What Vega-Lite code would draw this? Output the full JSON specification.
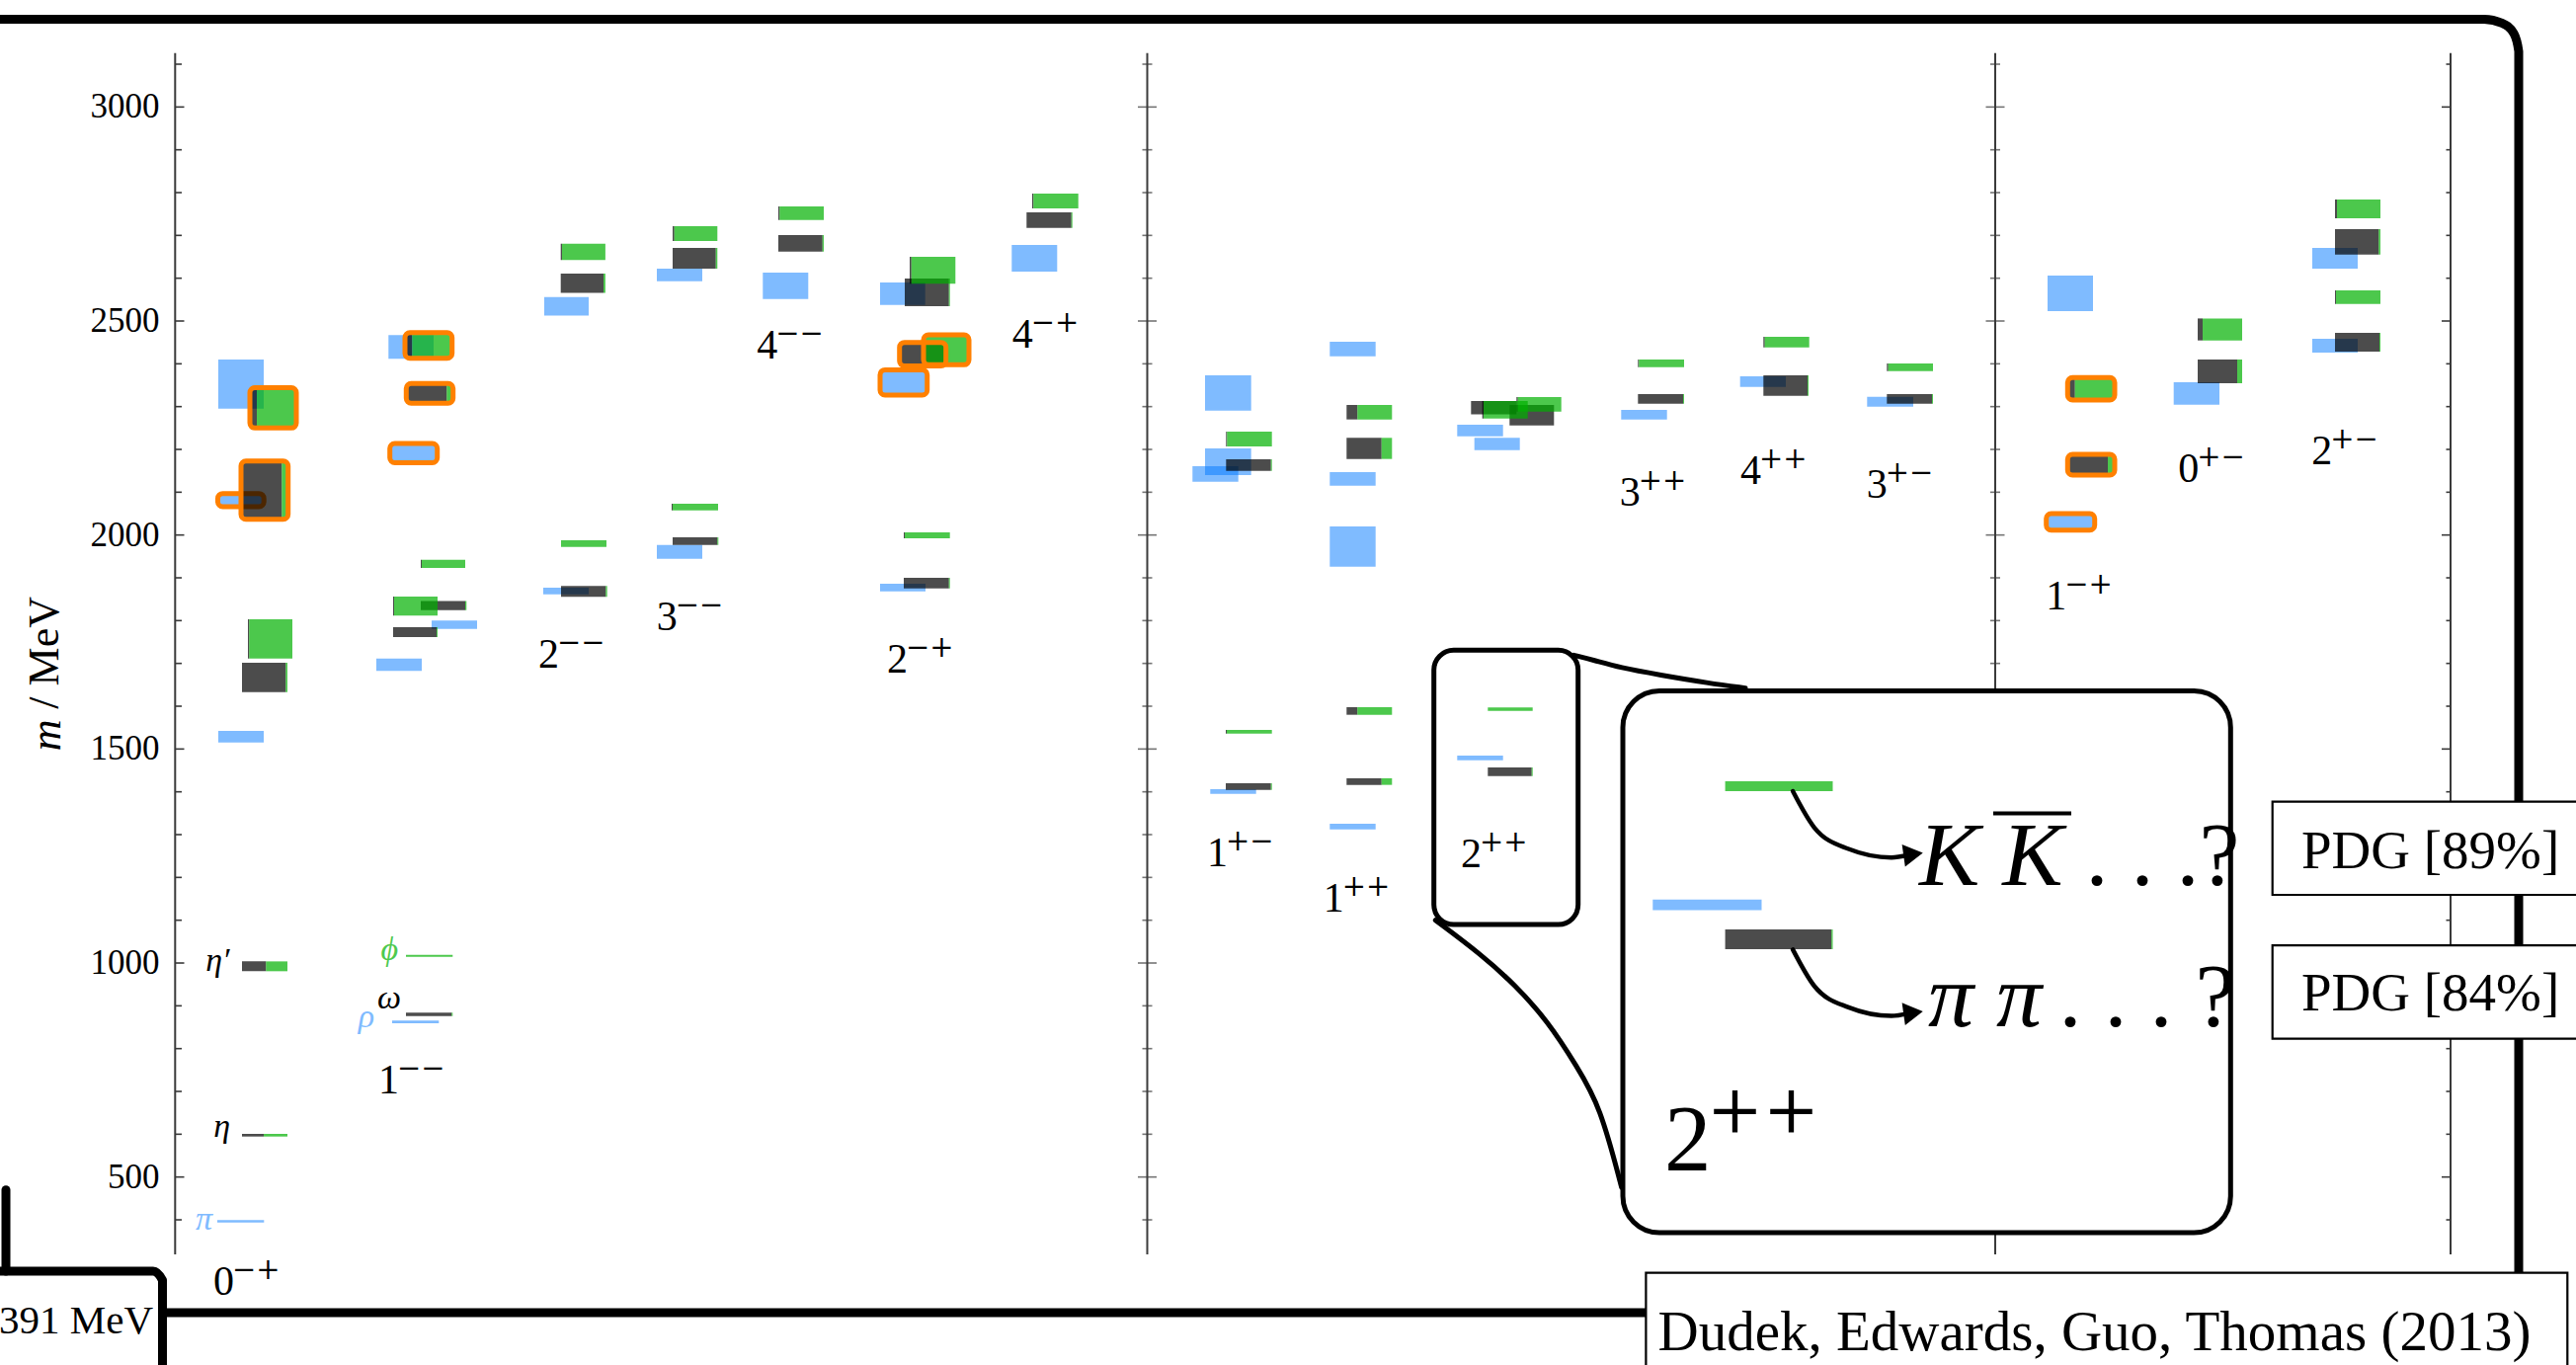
{
"$schema":"https://vega.github.io/schema/vega-lite/v6.json",
"width":2608,"height":1382,"autosize":{"type":"none"},"padding":0,
"background":"white",
"config":{"view":{"stroke":null}},
"datasets":{
"iv":[
{"x0":2.20,"x1":2.673,"lo":393.8,"hi":399.2,"hyb":false},
{"x0":2.21,"x1":2.67,"lo":1515.4,"hi":1542.3,"hyb":false},
{"x0":2.205,"x1":2.672,"lo":2066,"hi":2097,"hyb":true},
{"x0":2.21,"x1":2.67,"lo":2295,"hi":2410,"hyb":false},
{"x0":3.97,"x1":4.443,"lo":859.2,"hi":865.4,"hyb":false},
{"x0":3.81,"x1":4.27,"lo":1682.3,"hi":1711.5,"hyb":false},
{"x0":4.37,"x1":4.83,"lo":1780.8,"hi":1800,"hyb":false},
{"x0":3.947,"x1":4.427,"lo":2169,"hi":2214,"hyb":true},
{"x0":3.933,"x1":4.39,"lo":2411.5,"hi":2467,"hyb":false},
{"x0":5.50,"x1":5.96,"lo":1861.5,"hi":1877,"hyb":false},
{"x0":5.51,"x1":5.96,"lo":2512.6,"hi":2555.7,"hyb":false},
{"x0":6.65,"x1":7.11,"lo":1944.6,"hi":1977,"hyb":false},
{"x0":6.65,"x1":7.11,"lo":2593,"hi":2622.3,"hyb":false},
{"x0":7.723,"x1":8.183,"lo":2551.5,"hi":2613,"hyb":false},
{"x0":8.91,"x1":9.37,"lo":1868.5,"hi":1886,"hyb":false},
{"x0":8.91,"x1":9.387,"lo":2327,"hi":2386,"hyb":true},
{"x0":8.91,"x1":9.367,"lo":2537.7,"hi":2590,"hyb":false},
{"x0":10.243,"x1":10.703,"lo":2615.4,"hi":2677.7,"hyb":false},
{"x0":12.253,"x1":12.717,"lo":1395.4,"hi":1406,"hyb":false},
{"x0":12.073,"x1":12.537,"lo":2124.6,"hi":2160.8,"hyb":false},
{"x0":12.20,"x1":12.667,"lo":2140,"hi":2202.3,"hyb":false},
{"x0":12.20,"x1":12.667,"lo":2290.8,"hi":2373,"hyb":false},
{"x0":13.463,"x1":13.927,"lo":1312.3,"hi":1325.4,"hyb":false},
{"x0":13.463,"x1":13.927,"lo":1926,"hi":2020,"hyb":false},
{"x0":13.463,"x1":13.927,"lo":2115.4,"hi":2147,"hyb":false},
{"x0":13.463,"x1":13.927,"lo":2417.7,"hi":2451.5,"hyb":false},
{"x0":14.753,"x1":15.217,"lo":1473.8,"hi":1484.6,"hyb":false},
{"x0":14.927,"x1":15.387,"lo":2198.5,"hi":2227,"hyb":false},
{"x0":14.753,"x1":15.217,"lo":2230.8,"hi":2257.7,"hyb":false},
{"x0":16.413,"x1":16.877,"lo":2270,"hi":2292.3,"hyb":false},
{"x0":17.617,"x1":18.08,"lo":2346,"hi":2370.8,"hyb":false},
{"x0":18.903,"x1":19.37,"lo":2300,"hi":2323,"hyb":false},
{"x0":20.73,"x1":21.19,"lo":2523,"hi":2606,"hyb":false},
{"x0":20.717,"x1":21.207,"lo":2011.5,"hi":2050,"hyb":true},
{"x0":22.007,"x1":22.47,"lo":2304.6,"hi":2357,"hyb":false},
{"x0":23.41,"x1":23.87,"lo":2426,"hi":2458.5,"hyb":false},
{"x0":23.41,"x1":23.87,"lo":2622.3,"hi":2670.8,"hyb":false}
],
"is":[
{"x0":2.45,"xs":2.67,"x1":2.91,"lo":594.6,"hi":600.8,"hyb":false},
{"x0":2.45,"xs":2.693,"x1":2.91,"lo":980.8,"hi":1003.8,"hyb":false},
{"x0":2.45,"xs":2.893,"x1":2.91,"lo":1633,"hi":1701.5,"hyb":false},
{"x0":2.51,"xs":2.523,"x1":2.96,"lo":1711.5,"hi":1803,"hyb":false},
{"x0":2.44,"xs":2.853,"x1":2.917,"lo":2037,"hi":2173,"hyb":true},
{"x0":2.53,"xs":2.60,"x1":3.00,"lo":2250,"hi":2344,"hyb":true},
{"x0":4.11,"xs":4.573,"x1":4.583,"lo":876.2,"hi":883.8,"hyb":false},
{"x0":4.11,"xs":4.11,"x1":4.583,"lo":1014.6,"hi":1019.2,"hyb":false},
{"x0":3.98,"xs":4.42,"x1":4.43,"lo":1761.5,"hi":1784.6,"hyb":false},
{"x0":3.98,"xs":3.99,"x1":4.43,"lo":1811.5,"hi":1856,"hyb":false},
{"x0":4.26,"xs":4.71,"x1":4.723,"lo":1824.6,"hi":1846,"hyb":false},
{"x0":4.26,"xs":4.27,"x1":4.71,"lo":1923,"hi":1942,"hyb":false},
{"x0":4.113,"xs":4.523,"x1":4.587,"lo":2308,"hi":2354,"hyb":true},
{"x0":4.10,"xs":4.173,"x1":4.577,"lo":2413,"hi":2473,"hyb":true},
{"x0":5.68,"xs":6.133,"x1":6.147,"lo":1855.4,"hi":1880.8,"hyb":false},
{"x0":5.68,"xs":5.68,"x1":6.14,"lo":1972.3,"hi":1987.7,"hyb":false},
{"x0":5.677,"xs":6.11,"x1":6.129,"lo":2565.6,"hi":2611,"hyb":false},
{"x0":5.677,"xs":5.69,"x1":6.129,"lo":2642.3,"hi":2680.4,"hyb":false},
{"x0":6.81,"xs":7.263,"x1":7.273,"lo":1977,"hi":1994.6,"hyb":false},
{"x0":6.80,"xs":6.81,"x1":7.27,"lo":2057.7,"hi":2073,"hyb":false},
{"x0":6.81,"xs":7.247,"x1":7.263,"lo":2622.3,"hi":2670.8,"hyb":false},
{"x0":6.81,"xs":6.827,"x1":7.263,"lo":2687,"hi":2721.5,"hyb":false},
{"x0":7.88,"xs":8.327,"x1":8.34,"lo":2662.3,"hi":2700.8,"hyb":false},
{"x0":7.88,"xs":7.893,"x1":8.34,"lo":2736,"hi":2767.7,"hyb":false},
{"x0":9.15,"xs":9.607,"x1":9.617,"lo":1875.4,"hi":1900,"hyb":false},
{"x0":9.15,"xs":9.16,"x1":9.617,"lo":1992.3,"hi":2006,"hyb":false},
{"x0":9.107,"xs":9.577,"x1":9.577,"lo":2395,"hi":2450,"hyb":true},
{"x0":9.35,"xs":9.35,"x1":9.81,"lo":2397.7,"hi":2467.7,"hyb":true},
{"x0":9.16,"xs":9.607,"x1":9.617,"lo":2534.6,"hi":2599,"hyb":false},
{"x0":9.21,"xs":9.227,"x1":9.673,"lo":2587,"hi":2650,"hyb":false},
{"x0":10.393,"xs":10.847,"x1":10.857,"lo":2717.7,"hi":2753.8,"hyb":false},
{"x0":10.45,"xs":10.463,"x1":10.917,"lo":2763,"hi":2797.7,"hyb":false},
{"x0":12.41,"xs":12.867,"x1":12.877,"lo":1404.6,"hi":1420,"hyb":false},
{"x0":12.41,"xs":12.42,"x1":12.877,"lo":1536.2,"hi":1544.6,"hyb":false},
{"x0":12.413,"xs":12.867,"x1":12.877,"lo":2150,"hi":2177,"hyb":false},
{"x0":12.413,"xs":12.423,"x1":12.877,"lo":2207,"hi":2241.5,"hyb":false},
{"x0":13.633,"xs":13.987,"x1":14.093,"lo":1416.2,"hi":1431.6,"hyb":false},
{"x0":13.633,"xs":13.743,"x1":14.093,"lo":1580,"hi":1597.7,"hyb":false},
{"x0":13.633,"xs":13.987,"x1":14.093,"lo":2177.7,"hi":2227,"hyb":false},
{"x0":13.633,"xs":13.743,"x1":14.093,"lo":2270,"hi":2303.8,"hyb":false},
{"x0":15.063,"xs":15.507,"x1":15.517,"lo":1437,"hi":1457,"hyb":false},
{"x0":15.063,"xs":15.063,"x1":15.517,"lo":1589.2,"hi":1597,"hyb":false},
{"x0":14.893,"xs":15.353,"x1":15.353,"lo":2282,"hi":2313,"hyb":false},
{"x0":15.007,"xs":15.02,"x1":15.467,"lo":2272.3,"hi":2313,"hyb":false},
{"x0":15.283,"xs":15.733,"x1":15.733,"lo":2256,"hi":2303.8,"hyb":false},
{"x0":15.353,"xs":15.367,"x1":15.807,"lo":2288.5,"hi":2322.3,"hyb":false},
{"x0":16.583,"xs":17.04,"x1":17.05,"lo":2307,"hi":2329.2,"hyb":false},
{"x0":16.583,"xs":16.593,"x1":17.05,"lo":2392.3,"hi":2410,"hyb":false},
{"x0":17.853,"xs":18.30,"x1":18.31,"lo":2325.4,"hi":2373,"hyb":false},
{"x0":17.853,"xs":17.867,"x1":18.317,"lo":2438.5,"hi":2463,"hyb":false},
{"x0":19.103,"xs":19.56,"x1":19.57,"lo":2307,"hi":2329.2,"hyb":false},
{"x0":19.103,"xs":19.117,"x1":19.57,"lo":2383,"hi":2400.8,"hyb":false},
{"x0":20.933,"xs":21.34,"x1":21.41,"lo":2140,"hi":2188.5,"hyb":true},
{"x0":20.933,"xs":21.007,"x1":21.41,"lo":2315.4,"hi":2367.7,"hyb":true},
{"x0":22.25,"xs":22.65,"x1":22.70,"lo":2354.6,"hi":2410,"hyb":false},
{"x0":22.25,"xs":22.30,"x1":22.70,"lo":2454.6,"hi":2506,"hyb":false},
{"x0":23.64,"xs":24.09,"x1":24.10,"lo":2428.5,"hi":2472.3,"hyb":false},
{"x0":23.64,"xs":23.65,"x1":24.10,"lo":2540,"hi":2571.5,"hyb":false},
{"x0":23.64,"xs":24.083,"x1":24.10,"lo":2655.4,"hi":2714.6,"hyb":false},
{"x0":23.64,"xs":23.66,"x1":24.10,"lo":2740,"hi":2784,"hyb":false}
],
"inIv":[{"x0":16.733,"x1":17.835,"lo":1123.4,"hi":1148.4}],
"inIs":[
{"x0":17.466,"xs":17.466,"x1":18.555,"lo":1401.5,"hi":1424.6},
{"x0":17.466,"xs":18.542,"x1":18.555,"lo":1032.3,"hi":1078.5}
],
"ticks":[{"m":400},{"m":500},{"m":600},{"m":700},{"m":800},{"m":900},{"m":1000},{"m":1100},{"m":1200},{"m":1300},{"m":1400},{"m":1500},{"m":1600},{"m":1700},{"m":1800},{"m":1900},{"m":2000},{"m":2100},{"m":2200},{"m":2300},{"m":2400},{"m":2500},{"m":2600},{"m":2700},{"m":2800},{"m":2900},{"m":3000},{"m":3100}],
"vlines":[{"x":1.773},{"x":11.615},{"x":20.20},{"x":24.81}],
"jpc":[
{"j":"0","pc":"−+","x":2.16,"m":225.5},
{"j":"1","pc":"−−","x":3.83,"m":696},
{"j":"2","pc":"−−","x":5.45,"m":1690},
{"j":"3","pc":"−−","x":6.647,"m":1777},
{"j":"4","pc":"−−","x":7.663,"m":2413},
{"j":"2","pc":"−+","x":8.98,"m":1679},
{"j":"4","pc":"−+","x":10.247,"m":2438},
{"j":"1","pc":"+−","x":12.22,"m":1227},
{"j":"1","pc":"++","x":13.397,"m":1119},
{"j":"2","pc":"++","x":14.79,"m":1223},
{"j":"3","pc":"++","x":16.397,"m":2069},
{"j":"4","pc":"++","x":17.62,"m":2119},
{"j":"3","pc":"+−","x":18.897,"m":2087},
{"j":"1","pc":"−+","x":20.713,"m":1827},
{"j":"0","pc":"+−","x":22.053,"m":2123},
{"j":"2","pc":"+−","x":23.403,"m":2165}
],
"greek":[
{"t":"η′","x":2.325,"m":981,"c":"ll"},
{"t":"η","x":2.33,"m":594.5,"c":"ll"},
{"t":"π","x":2.15,"m":377,"c":"I1"},
{"t":"ϕ","x":4.03,"m":1006,"c":"ss"},
{"t":"ω","x":4.06,"m":893,"c":"ll"},
{"t":"ρ","x":3.79,"m":850,"c":"I1"}
],
"frame":[
{"p":"top","o":1,"x":0,"m":3205},
{"p":"top","o":2,"x":25.15,"m":3205},
{"p":"top","o":3,"x":25.33,"m":3196},
{"p":"top","o":4,"x":25.45,"m":3172},
{"p":"top","o":5,"x":25.50,"m":3130},
{"p":"top","o":6,"x":25.50,"m":277.7},
{"p":"left","o":1,"x":0.06,"m":470},
{"p":"left","o":2,"x":0.06,"m":280},
{"p":"box","o":1,"x":-0.05,"m":280},
{"p":"box","o":2,"x":1.55,"m":280},
{"p":"box","o":3,"x":1.645,"m":259},
{"p":"box","o":4,"x":1.645,"m":50},
{"p":"bottom","o":1,"x":1.645,"m":183},
{"p":"bottom","o":2,"x":16.664,"m":183}
],
"conn":[
{"p":"c1","o":1,"x":15.933,"m":1719.3},
{"p":"c1","o":2,"x":16.133,"m":1707.8},
{"p":"c1","o":3,"x":16.40,"m":1690},
{"p":"c1","o":4,"x":16.80,"m":1673.2},
{"p":"c1","o":5,"x":17.30,"m":1653.8},
{"p":"c1","o":6,"x":17.67,"m":1642.3},
{"p":"c2","o":1,"x":14.533,"m":1099.9},
{"p":"c2","o":2,"x":15.00,"m":1019.2},
{"p":"c2","o":3,"x":15.333,"m":949.9},
{"p":"c2","o":4,"x":15.667,"m":865.5},
{"p":"c2","o":5,"x":15.967,"m":757.7},
{"p":"c2","o":6,"x":16.20,"m":666.1},
{"p":"c2","o":7,"x":16.417,"m":476.2}
],
"arrows":[
{"p":"a1","o":1,"x":18.151,"m":1401.5},
{"p":"a1","o":2,"x":18.368,"m":1316.6},
{"p":"a1","o":3,"x":18.715,"m":1266.5},
{"p":"a1","o":4,"x":19.149,"m":1246.4},
{"p":"a1","o":5,"x":19.32,"m":1252},
{"p":"a2","o":1,"x":18.151,"m":1031.4},
{"p":"a2","o":2,"x":18.368,"m":946.4},
{"p":"a2","o":3,"x":18.715,"m":896.4},
{"p":"a2","o":4,"x":19.149,"m":876.3},
{"p":"a2","o":5,"x":19.32,"m":882}
],
"heads":[{"x":19.37,"m":1254},{"x":19.37,"m":884}],
"boxes":[
{"k":"small","x0":14.517,"x1":15.977,"lo":1090,"hi":1730.8},
{"k":"inset","x0":16.43,"x1":22.583,"lo":370,"hi":1635.8},
{"k":"pdg","x0":23.007,"x1":26.3,"lo":1159.2,"hi":1377},
{"k":"pdg","x0":23.007,"x1":26.3,"lo":823,"hi":1041.5},
{"k":"cite","x0":16.664,"x1":25.993,"lo":50,"hi":276.3},
{"k":"bar","x0":20.18,"x1":20.97,"lo":1349.6,"hi":1349.6}
],
"notes":[
{"t":"PDG [89%]","x":23.30,"m":1221.5,"k":"pdg"},
{"t":"PDG [84%]","x":23.30,"m":889.2,"k":"pdg"},
{"t":"Dudek, Edwards, Guo, Thomas (2013)","x":16.785,"m":95.4,"k":"cite"},
{"t":"391 MeV","x":-0.01,"m":134.6,"k":"mev"},
{"t":"K K","x":19.43,"m":1181.6,"k":"kk"},
{"t":". . .?","x":21.115,"m":1181.6,"k":"dots"},
{"t":"π π","x":19.52,"m":851.4,"k":"kk"},
{"t":". . . ?","x":20.845,"m":851.4,"k":"dots"},
{"t":"2","x":16.85,"m":516,"k":"in2"},
{"t":"++","x":16.85,"m":516,"k":"in2sup"},
{"t":"m","x":0.48,"m":1532,"k":"ym"},
{"t":"/ MeV","x":0.46,"m":1725,"k":"yu"}
]
},
"layer":[
{"data":{"name":"frame"},"mark":{"type":"line","color":"#000","strokeWidth":9,"strokeCap":"round","strokeJoin":"round","interpolate":"monotone"},
 "encoding":{"x":{"field":"x","type":"quantitative","scale":{"domain":[0,26.08],"nice":false,"zero":false},"axis":null},
 "y":{"field":"m","type":"quantitative","scale":{"domain":[60.8,3250],"nice":false,"zero":false},"axis":null},
 "detail":{"field":"p"},"order":{"field":"o","type":"quantitative"}}},
{"data":{"name":"vlines"},"mark":{"type":"rule","color":"#3a3a3a","strokeWidth":2},
 "encoding":{"x":{"field":"x","type":"quantitative","scale":{"domain":[0,26.08],"nice":false,"zero":false},"axis":null},
 "y":{"datum":319,"type":"quantitative","scale":{"domain":[60.8,3250],"nice":false,"zero":false},"axis":null},"y2":{"datum":3126}}},
{"data":{"name":"ticks"},"transform":[{"filter":"datum.m % 500 !== 0"}],"mark":{"type":"rule","color":"#3a3a3a","strokeWidth":1.6},
 "encoding":{"x":{"datum":1.773,"type":"quantitative","scale":{"domain":[0,26.08],"nice":false,"zero":false},"axis":null},"x2":{"datum":1.84},
 "y":{"field":"m","type":"quantitative","scale":{"domain":[60.8,3250],"nice":false,"zero":false},"axis":null}}},
{"data":{"name":"ticks"},"transform":[{"filter":"datum.m % 500 === 0"}],"mark":{"type":"rule","color":"#3a3a3a","strokeWidth":1.6},
 "encoding":{"x":{"datum":1.773,"type":"quantitative","scale":{"domain":[0,26.08],"nice":false,"zero":false},"axis":null},"x2":{"datum":1.865},
 "y":{"field":"m","type":"quantitative","scale":{"domain":[60.8,3250],"nice":false,"zero":false},"axis":null}}},
{"data":{"name":"ticks"},"transform":[{"filter":"datum.m % 500 === 0 && datum.m >= 500 && datum.m <= 3000"}],"mark":{"type":"text","font":"Liberation Serif","fontSize":35,"align":"right","baseline":"middle","color":"#000"},
 "encoding":{"x":{"datum":1.615,"type":"quantitative","scale":{"domain":[0,26.08],"nice":false,"zero":false},"axis":null},
 "y":{"field":"m","type":"quantitative","scale":{"domain":[60.8,3250],"nice":false,"zero":false},"axis":null},
 "text":{"field":"m","type":"quantitative","format":"d"}}},
{"data":{"name":"ticks"},"transform":[{"filter":"datum.m % 500 !== 0"}],"mark":{"type":"rule","color":"#3a3a3a","strokeWidth":1.6},
 "encoding":{"x":{"datum":24.81,"type":"quantitative","scale":{"domain":[0,26.08],"nice":false,"zero":false},"axis":null},"x2":{"datum":24.765},
 "y":{"field":"m","type":"quantitative","scale":{"domain":[60.8,3250],"nice":false,"zero":false},"axis":null}}},
{"data":{"name":"ticks"},"transform":[{"filter":"datum.m % 500 === 0"}],"mark":{"type":"rule","color":"#3a3a3a","strokeWidth":1.6},
 "encoding":{"x":{"datum":24.81,"type":"quantitative","scale":{"domain":[0,26.08],"nice":false,"zero":false},"axis":null},"x2":{"datum":24.72},
 "y":{"field":"m","type":"quantitative","scale":{"domain":[60.8,3250],"nice":false,"zero":false},"axis":null}}},
{"data":{"name":"ticks"},"mark":{"type":"tick","orient":"horizontal","color":"#3a3a3a","thickness":1.6},
 "encoding":{"x":{"datum":11.615,"type":"quantitative","scale":{"domain":[0,26.08],"nice":false,"zero":false},"axis":null},
 "y":{"field":"m","type":"quantitative","scale":{"domain":[60.8,3250],"nice":false,"zero":false},"axis":null},
 "size":{"condition":{"test":"datum.m % 500 === 0","value":19},"value":10}}},
{"data":{"name":"ticks"},"mark":{"type":"tick","orient":"horizontal","color":"#3a3a3a","thickness":1.6},
 "encoding":{"x":{"datum":20.20,"type":"quantitative","scale":{"domain":[0,26.08],"nice":false,"zero":false},"axis":null},
 "y":{"field":"m","type":"quantitative","scale":{"domain":[60.8,3250],"nice":false,"zero":false},"axis":null},
 "size":{"condition":{"test":"datum.m % 500 === 0","value":19},"value":10}}},
{"data":{"name":"iv"},"mark":{"type":"rect","color":"#0078ff","opacity":0.5},
 "encoding":{"x":{"field":"x0","type":"quantitative","scale":{"domain":[0,26.08],"nice":false,"zero":false},"axis":null},"x2":{"field":"x1"},
 "y":{"field":"lo","type":"quantitative","scale":{"domain":[60.8,3250],"nice":false,"zero":false},"axis":null},"y2":{"field":"hi"}}},
{"data":{"name":"iv"},"transform":[{"filter":"datum.hyb"}],"mark":{"type":"rect","filled":false,"color":"#ff8000","strokeWidth":5,"cornerRadius":5},
 "encoding":{"x":{"field":"x0","type":"quantitative","scale":{"domain":[0,26.08],"nice":false,"zero":false},"axis":null},"x2":{"field":"x1"},
 "y":{"field":"lo","type":"quantitative","scale":{"domain":[60.8,3250],"nice":false,"zero":false},"axis":null},"y2":{"field":"hi"}}},
{"data":{"name":"is"},"mark":{"type":"rect","color":"#000000","opacity":0.7},
 "encoding":{"x":{"field":"x0","type":"quantitative","scale":{"domain":[0,26.08],"nice":false,"zero":false},"axis":null},"x2":{"field":"xs"},
 "y":{"field":"lo","type":"quantitative","scale":{"domain":[60.8,3250],"nice":false,"zero":false},"axis":null},"y2":{"field":"hi"}}},
{"data":{"name":"is"},"mark":{"type":"rect","color":"#00b000","opacity":0.7},
 "encoding":{"x":{"field":"xs","type":"quantitative","scale":{"domain":[0,26.08],"nice":false,"zero":false},"axis":null},"x2":{"field":"x1"},
 "y":{"field":"lo","type":"quantitative","scale":{"domain":[60.8,3250],"nice":false,"zero":false},"axis":null},"y2":{"field":"hi"}}},
{"data":{"name":"is"},"transform":[{"filter":"datum.hyb"}],"mark":{"type":"rect","filled":false,"color":"#ff8000","strokeWidth":5,"cornerRadius":5},
 "encoding":{"x":{"field":"x0","type":"quantitative","scale":{"domain":[0,26.08],"nice":false,"zero":false},"axis":null},"x2":{"field":"x1"},
 "y":{"field":"lo","type":"quantitative","scale":{"domain":[60.8,3250],"nice":false,"zero":false},"axis":null},"y2":{"field":"hi"}}},
{"data":{"name":"jpc"},"mark":{"type":"text","font":"Liberation Serif","fontSize":42,"align":"left","baseline":"alphabetic","color":"#000"},
 "encoding":{"x":{"field":"x","type":"quantitative","scale":{"domain":[0,26.08],"nice":false,"zero":false},"axis":null},
 "y":{"field":"m","type":"quantitative","scale":{"domain":[60.8,3250],"nice":false,"zero":false},"axis":null},"text":{"field":"j"}}},
{"data":{"name":"jpc"},"mark":{"type":"text","font":"DejaVu Serif","fontSize":29,"align":"left","baseline":"alphabetic","color":"#000","dx":19,"dy":-16},
 "encoding":{"x":{"field":"x","type":"quantitative","scale":{"domain":[0,26.08],"nice":false,"zero":false},"axis":null},
 "y":{"field":"m","type":"quantitative","scale":{"domain":[60.8,3250],"nice":false,"zero":false},"axis":null},"text":{"field":"pc"}}},
{"data":{"name":"greek"},"mark":{"type":"text","font":"Liberation Serif","fontStyle":"italic","fontSize":34,"align":"right","baseline":"alphabetic"},
 "encoding":{"x":{"field":"x","type":"quantitative","scale":{"domain":[0,26.08],"nice":false,"zero":false},"axis":null},
 "y":{"field":"m","type":"quantitative","scale":{"domain":[60.8,3250],"nice":false,"zero":false},"axis":null},"text":{"field":"t"},
 "color":{"field":"c","type":"nominal","scale":{"domain":["I1","ll","ss"],"range":["#80bbff","#000000","#4ec94e"]},"legend":null}}},
{"data":{"name":"conn"},"mark":{"type":"line","color":"#000","strokeWidth":5,"interpolate":"basis","strokeCap":"round"},
 "encoding":{"x":{"field":"x","type":"quantitative","scale":{"domain":[0,26.08],"nice":false,"zero":false},"axis":null},
 "y":{"field":"m","type":"quantitative","scale":{"domain":[60.8,3250],"nice":false,"zero":false},"axis":null},
 "detail":{"field":"p"},"order":{"field":"o","type":"quantitative"}}},
{"data":{"name":"boxes"},"transform":[{"filter":"datum.k === 'small'"}],"mark":{"type":"rect","filled":false,"color":"#000","strokeWidth":5,"cornerRadius":20},
 "encoding":{"x":{"field":"x0","type":"quantitative","scale":{"domain":[0,26.08],"nice":false,"zero":false},"axis":null},"x2":{"field":"x1"},
 "y":{"field":"lo","type":"quantitative","scale":{"domain":[60.8,3250],"nice":false,"zero":false},"axis":null},"y2":{"field":"hi"}}},
{"data":{"name":"boxes"},"transform":[{"filter":"datum.k === 'inset'"}],"mark":{"type":"rect","fill":"#ffffff","stroke":"#000","strokeWidth":5,"cornerRadius":37},
 "encoding":{"x":{"field":"x0","type":"quantitative","scale":{"domain":[0,26.08],"nice":false,"zero":false},"axis":null},"x2":{"field":"x1"},
 "y":{"field":"lo","type":"quantitative","scale":{"domain":[60.8,3250],"nice":false,"zero":false},"axis":null},"y2":{"field":"hi"}}},
{"data":{"name":"inIv"},"mark":{"type":"rect","color":"#0078ff","opacity":0.5},
 "encoding":{"x":{"field":"x0","type":"quantitative","scale":{"domain":[0,26.08],"nice":false,"zero":false},"axis":null},"x2":{"field":"x1"},
 "y":{"field":"lo","type":"quantitative","scale":{"domain":[60.8,3250],"nice":false,"zero":false},"axis":null},"y2":{"field":"hi"}}},
{"data":{"name":"inIs"},"mark":{"type":"rect","color":"#000000","opacity":0.7},
 "encoding":{"x":{"field":"x0","type":"quantitative","scale":{"domain":[0,26.08],"nice":false,"zero":false},"axis":null},"x2":{"field":"xs"},
 "y":{"field":"lo","type":"quantitative","scale":{"domain":[60.8,3250],"nice":false,"zero":false},"axis":null},"y2":{"field":"hi"}}},
{"data":{"name":"inIs"},"mark":{"type":"rect","color":"#00b000","opacity":0.7},
 "encoding":{"x":{"field":"xs","type":"quantitative","scale":{"domain":[0,26.08],"nice":false,"zero":false},"axis":null},"x2":{"field":"x1"},
 "y":{"field":"lo","type":"quantitative","scale":{"domain":[60.8,3250],"nice":false,"zero":false},"axis":null},"y2":{"field":"hi"}}},
{"data":{"name":"arrows"},"mark":{"type":"line","color":"#000","strokeWidth":4.5,"interpolate":"monotone","strokeCap":"round"},
 "encoding":{"x":{"field":"x","type":"quantitative","scale":{"domain":[0,26.08],"nice":false,"zero":false},"axis":null},
 "y":{"field":"m","type":"quantitative","scale":{"domain":[60.8,3250],"nice":false,"zero":false},"axis":null},
 "detail":{"field":"p"},"order":{"field":"o","type":"quantitative"}}},
{"data":{"name":"heads"},"mark":{"type":"point","shape":"triangle-right","filled":true,"color":"#000","size":520,"opacity":1,"angle":-8},
 "encoding":{"x":{"field":"x","type":"quantitative","scale":{"domain":[0,26.08],"nice":false,"zero":false},"axis":null},
 "y":{"field":"m","type":"quantitative","scale":{"domain":[60.8,3250],"nice":false,"zero":false},"axis":null}}},
{"data":{"name":"boxes"},"transform":[{"filter":"datum.k === 'bar'"}],"mark":{"type":"rule","color":"#000","strokeWidth":4},
 "encoding":{"x":{"field":"x0","type":"quantitative","scale":{"domain":[0,26.08],"nice":false,"zero":false},"axis":null},"x2":{"field":"x1"},
 "y":{"field":"lo","type":"quantitative","scale":{"domain":[60.8,3250],"nice":false,"zero":false},"axis":null}}},
{"data":{"name":"boxes"},"transform":[{"filter":"datum.k === 'pdg' || datum.k === 'cite'"}],"mark":{"type":"rect","fill":"#ffffff","stroke":"#000","strokeWidth":2.2},
 "encoding":{"x":{"field":"x0","type":"quantitative","scale":{"domain":[0,26.08],"nice":false,"zero":false},"axis":null},"x2":{"field":"x1"},
 "y":{"field":"lo","type":"quantitative","scale":{"domain":[60.8,3250],"nice":false,"zero":false},"axis":null},"y2":{"field":"hi"}}},
{"data":{"name":"notes"},"transform":[{"filter":"datum.k === 'pdg'"}],"mark":{"type":"text","font":"Liberation Serif","fontSize":55,"align":"left","baseline":"alphabetic","color":"#000"},
 "encoding":{"x":{"field":"x","type":"quantitative","scale":{"domain":[0,26.08],"nice":false,"zero":false},"axis":null},
 "y":{"field":"m","type":"quantitative","scale":{"domain":[60.8,3250],"nice":false,"zero":false},"axis":null},"text":{"field":"t"}}},
{"data":{"name":"notes"},"transform":[{"filter":"datum.k === 'cite'"}],"mark":{"type":"text","font":"Liberation Serif","fontSize":57,"align":"left","baseline":"alphabetic","color":"#000"},
 "encoding":{"x":{"field":"x","type":"quantitative","scale":{"domain":[0,26.08],"nice":false,"zero":false},"axis":null},
 "y":{"field":"m","type":"quantitative","scale":{"domain":[60.8,3250],"nice":false,"zero":false},"axis":null},"text":{"field":"t"}}},
{"data":{"name":"notes"},"transform":[{"filter":"datum.k === 'mev'"}],"mark":{"type":"text","font":"Liberation Serif","fontSize":41,"align":"left","baseline":"alphabetic","color":"#000"},
 "encoding":{"x":{"field":"x","type":"quantitative","scale":{"domain":[0,26.08],"nice":false,"zero":false},"axis":null},
 "y":{"field":"m","type":"quantitative","scale":{"domain":[60.8,3250],"nice":false,"zero":false},"axis":null},"text":{"field":"t"}}},
{"data":{"name":"notes"},"transform":[{"filter":"datum.k === 'kk'"}],"mark":{"type":"text","font":"Liberation Serif","fontStyle":"italic","fontSize":92,"align":"left","baseline":"alphabetic","color":"#000"},
 "encoding":{"x":{"field":"x","type":"quantitative","scale":{"domain":[0,26.08],"nice":false,"zero":false},"axis":null},
 "y":{"field":"m","type":"quantitative","scale":{"domain":[60.8,3250],"nice":false,"zero":false},"axis":null},"text":{"field":"t"}}},
{"data":{"name":"notes"},"transform":[{"filter":"datum.k === 'dots'"}],"mark":{"type":"text","font":"Liberation Serif","fontSize":92,"align":"left","baseline":"alphabetic","color":"#000"},
 "encoding":{"x":{"field":"x","type":"quantitative","scale":{"domain":[0,26.08],"nice":false,"zero":false},"axis":null},
 "y":{"field":"m","type":"quantitative","scale":{"domain":[60.8,3250],"nice":false,"zero":false},"axis":null},"text":{"field":"t"}}},
{"data":{"name":"notes"},"transform":[{"filter":"datum.k === 'in2'"}],"mark":{"type":"text","font":"Liberation Serif","fontSize":95,"align":"left","baseline":"alphabetic","color":"#000"},
 "encoding":{"x":{"field":"x","type":"quantitative","scale":{"domain":[0,26.08],"nice":false,"zero":false},"axis":null},
 "y":{"field":"m","type":"quantitative","scale":{"domain":[60.8,3250],"nice":false,"zero":false},"axis":null},"text":{"field":"t"}}},
{"data":{"name":"notes"},"transform":[{"filter":"datum.k === 'in2sup'"}],"mark":{"type":"text","font":"DejaVu Serif","fontSize":68,"align":"left","baseline":"alphabetic","color":"#000","dx":43,"dy":-39},
 "encoding":{"x":{"field":"x","type":"quantitative","scale":{"domain":[0,26.08],"nice":false,"zero":false},"axis":null},
 "y":{"field":"m","type":"quantitative","scale":{"domain":[60.8,3250],"nice":false,"zero":false},"axis":null},"text":{"field":"t"}}},
{"data":{"name":"notes"},"transform":[{"filter":"datum.k === 'ym'"}],"mark":{"type":"text","font":"Liberation Serif","fontStyle":"italic","fontSize":44,"align":"center","baseline":"middle","angle":270,"color":"#000"},
 "encoding":{"x":{"field":"x","type":"quantitative","scale":{"domain":[0,26.08],"nice":false,"zero":false},"axis":null},
 "y":{"field":"m","type":"quantitative","scale":{"domain":[60.8,3250],"nice":false,"zero":false},"axis":null},"text":{"field":"t"}}},
{"data":{"name":"notes"},"transform":[{"filter":"datum.k === 'yu'"}],"mark":{"type":"text","font":"Liberation Serif","fontSize":44,"align":"center","baseline":"middle","angle":270,"color":"#000"},
 "encoding":{"x":{"field":"x","type":"quantitative","scale":{"domain":[0,26.08],"nice":false,"zero":false},"axis":null},
 "y":{"field":"m","type":"quantitative","scale":{"domain":[60.8,3250],"nice":false,"zero":false},"axis":null},"text":{"field":"t"}}}
]
}
